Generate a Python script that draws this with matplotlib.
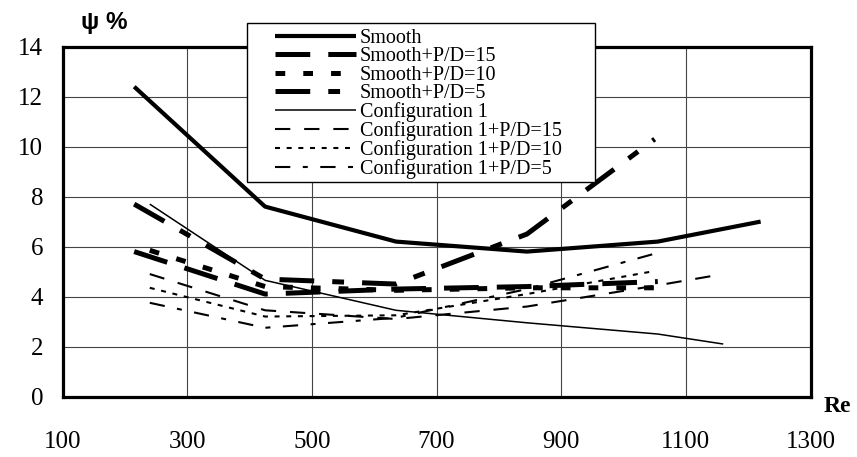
import matplotlib
matplotlib.use("Agg")
import matplotlib.pyplot as plt
from matplotlib.patches import Rectangle

# friction factor increase vs Reynolds number, read per configuration
re_smooth = [215, 425, 635, 845, 1055, 1220]
psi_smooth = [12.4, 7.6, 6.2, 5.8, 6.2, 7.0]

re_s15 = [215, 425, 635, 845, 1055]
psi_s15 = [5.8, 4.1, 4.3, 4.4, 4.6]

re_s10 = [240, 425, 635, 845, 1050]
psi_s10 = [5.85, 4.4, 4.25, 4.35, 4.35]

re_s5 = [215, 425, 635, 845, 1050]
psi_s5 = [7.7, 4.7, 4.5, 6.5, 10.3]

re_c1 = [240, 425, 635, 845, 1055, 1160]
psi_c1 = [7.7, 4.65, 3.45, 2.95, 2.5, 2.1]

re_c15 = [240, 425, 635, 845, 1055, 1160]
psi_c15 = [4.9, 3.45, 3.1, 3.6, 4.45, 4.9]

re_c10 = [240, 425, 635, 845, 1045]
psi_c10 = [4.35, 3.2, 3.25, 4.1, 5.0]

re_c5 = [240, 425, 635, 845, 1055]
psi_c5 = [3.75, 2.75, 3.15, 4.3, 5.75]

x_ticks = [100, 300, 500, 700, 900, 1100, 1300]
y_ticks = [0, 2, 4, 6, 8, 10, 12, 14]

plt.rcParams['font.family'] = ['Liberation Serif', 'DejaVu Serif']
plt.rcParams['lines.scale_dashes'] = False

fig = plt.figure(figsize=(8.57, 4.57), dpi=100)
ax = fig.add_axes([62.5 / 857, 1 - 396.5 / 457, 748 / 857, 349.8 / 457])

k = dict(color='black', solid_capstyle='butt', dash_capstyle='butt')
ax.plot(re_smooth, psi_smooth, lw=3.0, ls='-', label='Smooth', **k)
ax.plot(re_s15, psi_s15, lw=3.6, ls=(0, (25, 13)), label='Smooth+P/D=15', **k)
ax.plot(re_s10, psi_s10, lw=3.6, ls=(0, (7, 13)), label='Smooth+P/D=10', **k)
ax.plot(re_s5, psi_s5, lw=3.6, ls=(0, (25, 13, 8.5, 13)), label='Smooth+P/D=5', **k)
ax.plot(re_c1, psi_c1, lw=1.1, ls='-', label='Configuration 1', **k)
ax.plot(re_c15, psi_c15, lw=1.5, ls=(0, (11, 10)), label='Configuration 1+P/D=15', **k)
ax.plot(re_c10, psi_c10, lw=1.5, ls=(0, (3.6, 4.8)), label='Configuration 1+P/D=10', **k)
ax.plot(re_c5, psi_c5, lw=1.5, ls=(0, (11, 9, 3.6, 9)), label='Configuration 1+P/D=5', **k)

ax.set_xlim(100, 1300)
ax.set_ylim(0, 14)
ax.set_xticks(x_ticks)
ax.set_yticks(y_ticks)
ax.grid(True, color='#444444', lw=0.8)
ax.set_axisbelow(True)
ax.tick_params(axis='both', length=0, labelsize=18)
ax.tick_params(axis='x', pad=25)
ax.tick_params(axis='y', pad=14)
for s in ax.spines.values():
    s.set_linewidth(2.3)

# legend box sits partly above the plot frame
box = Rectangle((246.7 / 857, 1 - 181.7 / 457), 348.3 / 857, 158.4 / 457,
                transform=fig.transFigure, facecolor='white', edgecolor='black',
                lw=1.0, zorder=5)
fig.patches.append(box)
leg = fig.legend(loc='upper left', bbox_to_anchor=(275 / 857, 1 - 29 / 457),
                 frameon=False, fontsize=14.5, handlelength=4.0,
                 handletextpad=0.2, labelspacing=-0.04, borderpad=0.0,
                 borderaxespad=0.0)
leg.set_zorder(6)

fig.text(104 / 857, 1 - 23 / 457, 'ψ %', family='Liberation Sans',
         weight='bold', fontsize=17.5, ha='center', va='center')
fig.text(837 / 857, 1 - 407 / 457, 'Re', weight='bold', fontsize=17,
         ha='center', va='center')

fig.savefig('out.png', dpi=100)
